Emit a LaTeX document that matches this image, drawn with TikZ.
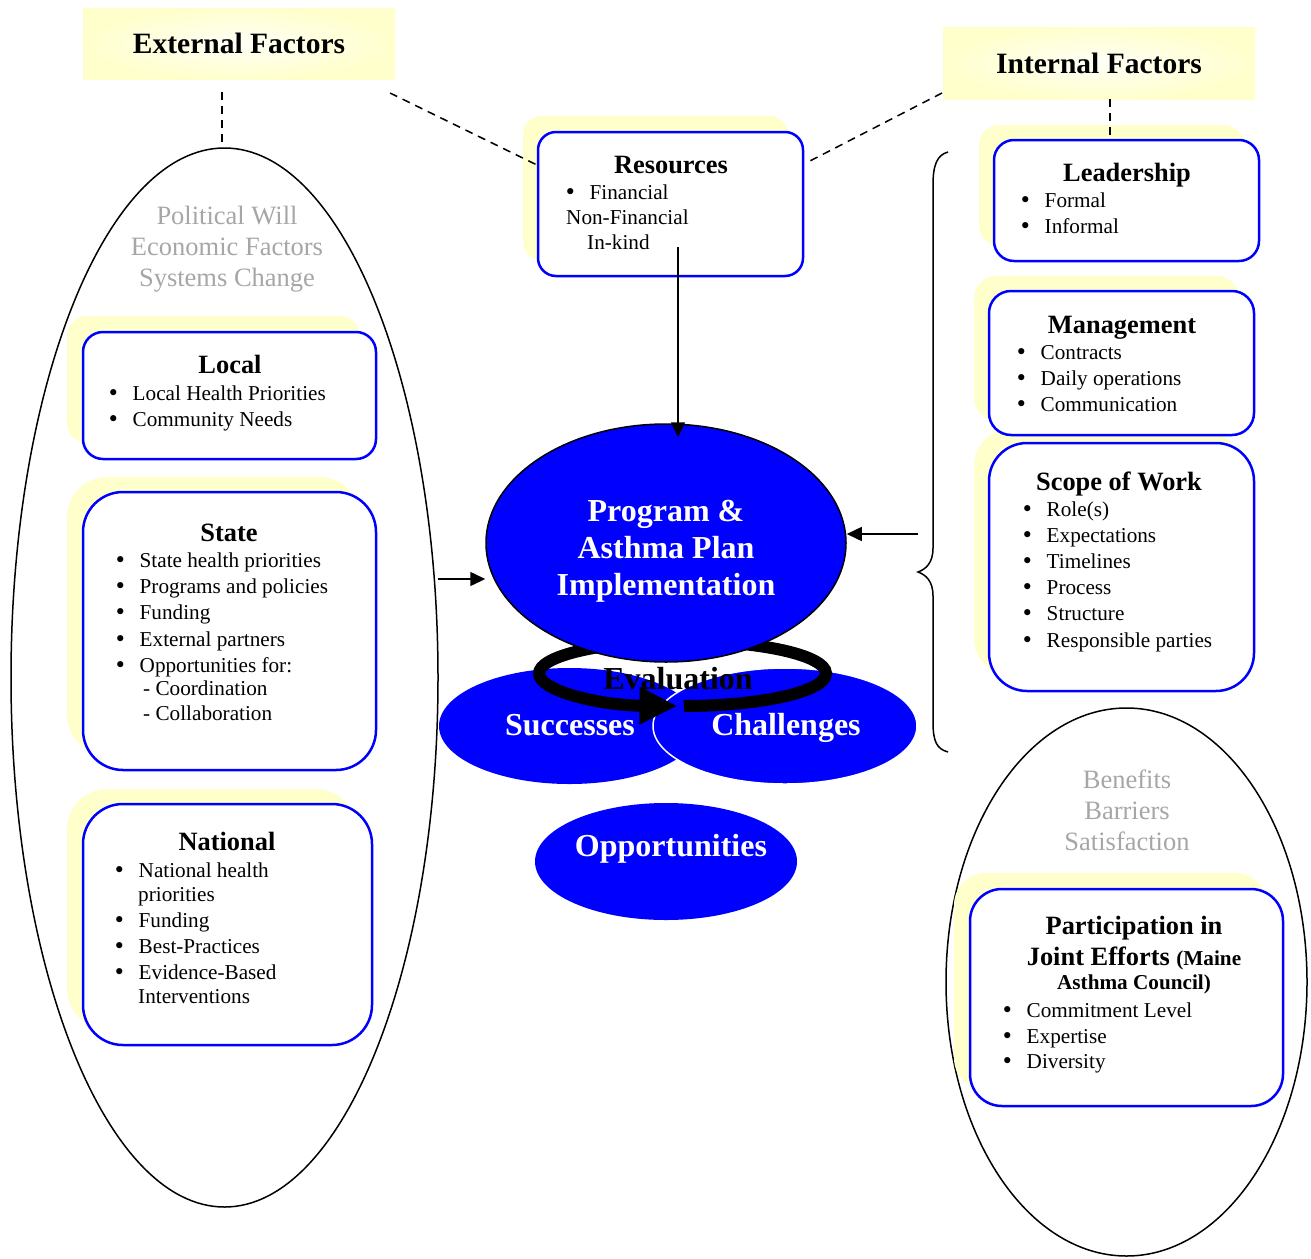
\documentclass[tikz,border=0pt]{standalone}
\usepackage{fontspec}
\setmainfont{Liberation Serif}
\newfontfamily\dotfont{DejaVu Sans}
\usetikzlibrary{shapes.geometric, arrows.meta}

\definecolor{paleyel}{HTML}{FFFFCC}
\definecolor{fadegrey}{HTML}{A6A6A6}
\newcommand{\blt}[1]{\makebox[25.5pt][l]{{\dotfont •}}#1}

\begin{document}
\begin{tikzpicture}[x=1pt, y=-1pt,
    every node/.style={inner sep=0pt},
    body/.style={font=\fontsize{21.2}{26}\selectfont, anchor=base west},
    head/.style={font=\fontsize{26.4}{30}\selectfont\bfseries, anchor=base},
    title/.style={font=\fontsize{29.5}{32}\selectfont\bfseries, shading=radial, inner color=paleyel!15, outer color=paleyel},
    bigw/.style={font=\fontsize{32}{37}\selectfont\bfseries, text=white, anchor=base},
    faded/.style={font=\fontsize{26.5}{31}\selectfont, text=fadegrey, align=center},
    outline/.style={ellipse, draw, line width=1.5pt},
    blob/.style={ellipse, fill=blue},
    bluebox/.style={rectangle, draw=blue, line width=2.5pt, fill=white},
    backing/.style={fill=paleyel},
    dashline/.style={line width=1.5pt, dash pattern=on 8pt off 6pt},
    arr/.style={line width=1.5pt, -{Triangle[length=15pt, width=14pt]}}]
  \useasboundingbox (0,0) rectangle (1311,1258);

  % factor titles
  \node[title, minimum width=312pt, minimum height=71pt] (ext) at (239,43.5) {External Factors};
  \node[title, minimum width=312pt, minimum height=72pt] (int) at (1099,63) {Internal Factors};

  % outer ellipses
  \node[outline, minimum width=427pt, minimum height=1059pt] (lext) at (224.5,677.5) {};
  \node[outline, minimum width=361pt, minimum height=548pt] (rint) at (1126.5,982) {};
  \node[faded] (lwords) at (227,249) {Political Will\\Economic Factors\\Systems Change};
  \node[faded] (rwords) at (1127,810) {Benefits\\Barriers\\Satisfaction};

  % yellow backings
  \fill[backing, rounded corners=18pt] (523,116) rectangle (788,260);
  \fill[backing, rounded corners=20pt] (979,125) rectangle (1244,246);
  \fill[backing, rounded corners=22pt] (974,276) rectangle (1239,420);
  \fill[backing, rounded corners=38pt] (974,428) rectangle (1239,676);
  \fill[backing, rounded corners=20pt] (67,316) rectangle (360,443);
  \fill[backing, rounded corners=40pt] (67,477) rectangle (360,755);
  \fill[backing, rounded corners=40pt] (67,789) rectangle (356,1029);
  \fill[backing, rounded corners=32pt] (954,873) rectangle (1267,1090);

  % boxes
  \node[bluebox, rounded corners=18pt, minimum width=265pt, minimum height=144pt] (res) at (670.5,204) {};
  \node[bluebox, rounded corners=20pt, minimum width=265pt, minimum height=121pt] (lead) at (1126.5,200.5) {};
  \node[bluebox, rounded corners=22pt, minimum width=265pt, minimum height=144pt] (mgmt) at (1121.5,363) {};
  \node[bluebox, rounded corners=38pt, minimum width=265pt, minimum height=248pt] (scope) at (1121.5,567) {};
  \node[bluebox, rounded corners=20pt, minimum width=293pt, minimum height=127pt] (local) at (229.5,395.5) {};
  \node[bluebox, rounded corners=40pt, minimum width=293pt, minimum height=278pt] (state) at (229.5,631) {};
  \node[bluebox, rounded corners=40pt, minimum width=289pt, minimum height=241pt] (natl) at (227.5,924.5) {};
  \node[bluebox, rounded corners=32pt, minimum width=313pt, minimum height=217pt] (part) at (1126.5,997.5) {};

  % box texts
  \node[head] (res-h) at (671,173) {Resources};
  \node[body] (res-1) at (564,199) {\blt{Financial}};
  \node[body] (res-2) at (566,224) {Non-Financial};
  \node[body] (res-3) at (587,249) {In-kind};

  \node[head] (lead-h) at (1127,181) {Leadership};
  \foreach \y/\t [count=\i] in {207/Formal, 233/Informal}
    \node[body] (lead-\i) at (1019,\y) {\blt{\t}};

  \node[head] (mgmt-h) at (1122,333) {Management};
  \foreach \y/\t [count=\i] in {359/Contracts, 385/Daily operations, 411/Communication}
    \node[body] (mgmt-\i) at (1015,\y) {\blt{\t}};

  \node[head] (scope-h) at (1119,490) {Scope of Work};
  \foreach \y/\t [count=\i] in {516/Role(s), 542/Expectations, 568/Timelines, 594/Process, 620/Structure, 647/Responsible parties}
    \node[body] (scope-\i) at (1021,\y) {\blt{\t}};

  \node[head] (local-h) at (230,373) {Local};
  \foreach \y/\t [count=\i] in {400/Local Health Priorities, 426/Community Needs}
    \node[body] (local-\i) at (107,\y) {\blt{\t}};

  \node[head] (state-h) at (229,541) {State};
  \foreach \y/\t [count=\i] in {567/State health priorities, 593/Programs and policies, 619/Funding, 646/External partners, 672/Opportunities for:}
    \node[body] (state-\i) at (114,\y) {\blt{\t}};
  \node[body] (state-6) at (143,695) {- Coordination};
  \node[body] (state-7) at (143,720) {- Collaboration};

  \node[head] (natl-h) at (227,850) {National};
  \foreach \y/\t [count=\i] in {877/National health, 927/Funding, 953/Best-Practices, 979/Evidence-Based}
    \node[body] (natl-\i) at (113,\y) {\blt{\t}};
  \node[body] (natl-5) at (138,901) {priorities};
  \node[body] (natl-6) at (138,1003) {Interventions};

  \node[head] (part-h1) at (1134,934) {Participation in};
  \node[head] (part-h2) at (1134,965) {Joint Efforts {\fontsize{21.2}{24}\selectfont(Maine}};
  \node[head, font=\fontsize{21.2}{24}\selectfont\bfseries] (part-h3) at (1134,989) {Asthma Council)};
  \foreach \y/\t [count=\i] in {1017/Commitment Level, 1043/Expertise, 1068/Diversity}
    \node[body] (part-\i) at (1001,\y) {\blt{\t}};

  % centre: outcomes, evaluation loop, plan
  \node[blob, minimum width=261pt, minimum height=116pt] (succ) at (569.5,726) {};
  \node[blob, draw=white, line width=1.5pt, minimum width=264pt, minimum height=116pt] (chal) at (785,726) {};
  \coordinate (ringc) at (682.5,673.5);
  \draw[line width=12pt, -{Triangle[length=38pt, width=35pt]}] (ringc) ++(89.5:143.5 and 32.5)
    arc[start angle=89.5, end angle=-268, x radius=143.5, y radius=32.5];
  \node[blob, draw=black, line width=1.5pt, minimum width=360pt, minimum height=238pt] (prog) at (666,543) {};
  \foreach \y/\t [count=\i] in {521/Program \&, 558/Asthma Plan, 595/Implementation}
    \node[bigw] (prog-\i) at (666,\y) {\t};
  \node[bigw, text=black] (evaltxt) at (678,689) {Evaluation};
  \node[bigw] (succtxt) at (570,735) {Successes};
  \node[bigw] (chaltxt) at (786,735) {Challenges};
  \node[blob, minimum width=262pt, minimum height=117pt] (opp) at (666,861.5) {};
  \node[bigw] (opptxt) at (671,856) {Opportunities};

  % dashed links to the titles
  \coordinate (extfoot) at (222,92);
  \coordinate (extcorner) at (390,93);
  \coordinate (resleft) at (537,165);
  \coordinate (intcorner) at (942,93);
  \coordinate (resright) at (806,163);
  \coordinate (intfoot) at (1110,99);
  \draw[dashline] (extfoot) -- (extfoot |- lext.north);
  \draw[dashline] (extcorner) -- (resleft);
  \draw[dashline] (intcorner) -- (resright);
  \draw[dashline] (intfoot) -- (intfoot |- lead.north);

  % arrows into the plan
  \coordinate (resfoot) at (678,247);
  \coordinate (lout) at (438,579);
  \coordinate (rin) at (918,534);
  \draw[arr, shorten >=-14pt] (resfoot) -- (resfoot |- prog.north);
  \draw[arr] (lout) -- (prog.west |- lout);
  \draw[arr] (rin) -- (prog.east |- rin);

  % brace round the internal factors
  \draw[line width=1.5pt] (948,152) .. controls (937,155) and (933,165) .. (933,185)
    -- (933,548) .. controls (933,563) and (926,569) .. (918,572)
    .. controls (926,575) and (933,581) .. (933,596)
    -- (933,722) .. controls (933,742) and (937,749) .. (948,752);
\end{tikzpicture}
\end{document}
